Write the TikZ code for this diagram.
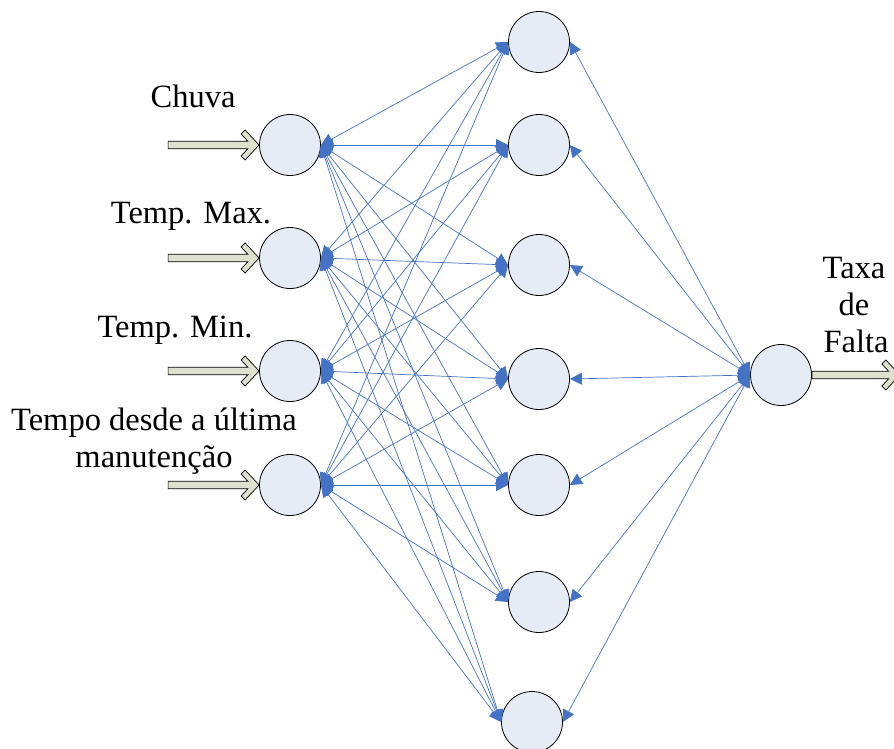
\documentclass[tikz,border=0pt]{standalone}
\usepackage{fontspec}
\setmainfont{Liberation Serif}
\usetikzlibrary{arrows.meta}
\definecolor{nodefill}{RGB}{230,236,246}
\definecolor{linkblue}{RGB}{68,114,196}
\definecolor{arrowfill}{RGB}{221,225,205}
\begin{document}
\begin{tikzpicture}[x=1pt,y=-1pt,
  neuron/.style={circle, draw=black, line width=0.8pt, fill=nodefill, minimum size=61pt, inner sep=0pt},
  link/.style={draw=linkblue, line width=0.7pt, {Triangle[length=12pt,width=12pt]}-{Triangle[length=12pt,width=12pt]}},
  lbl/.style={font=\fontsize{32.5}{37}\selectfont, anchor=base, inner sep=0pt},
  fatarrow/.style={draw=black, line width=0.7pt, fill=arrowfill, line join=miter},
  pics/blockarrow/.style={code={
    \draw[fatarrow] (0,0) -- (-14,-15) -- (-18,-11) -- (-11.2,-3.7) -- (-#1,-3.7)
      -- (-#1,3.7) -- (-11.2,3.7) -- (-18,11) -- (-14,15) -- cycle;}}]
\useasboundingbox (0,0) rectangle (894,749);

% input layer
\node[neuron] (i1) at (290,145) {};
\node[neuron] (i2) at (290,258) {};
\node[neuron] (i3) at (290,371) {};
\node[neuron] (i4) at (290,485) {};
% hidden layer
\node[neuron] (h1) at (539,42) {};
\node[neuron] (h2) at (539,145) {};
\node[neuron] (h3) at (539,265) {};
\node[neuron] (h4) at (539,379) {};
\node[neuron] (h5) at (539,485) {};
\node[neuron] (h6) at (539,602) {};
\node[neuron] (h7) at (532,722) {};
% output
\node[neuron] (o) at (781,375) {};

% connections
\foreach \i in {1,...,4}{
  \foreach \h in {1,...,7}{
    \draw[link] (i\i.east) -- (h\h.west);
  }
}
\foreach \h in {1,...,7}{
  \draw[link] (h\h.east) -- (o.west);
}

% input / output arrows
\pic at (i1.west) {blockarrow=91};
\pic at (i2.west) {blockarrow=91};
\pic at (i3.west) {blockarrow=91};
\pic at (i4.west) {blockarrow=91};
\pic at ([xshift=88pt]o.east) {blockarrow=88};

% labels
\node[lbl] (l1) at (193,108) {Chuva};
\node[lbl] (l2) at (191,223) {Temp. Max.};
\node[lbl] (l3) at (175,337) {Temp. Min.};
\node[lbl] (l4a) at (154,430) {Tempo desde a última};
\node[lbl] (l4b) at (154,467) {manutenção};
\node[lbl] (t1) at (854,278) {Taxa};
\node[lbl] (t2) at (854,315) {de};
\node[lbl] (t3) at (856,352) {Falta};
\end{tikzpicture}
\end{document}
